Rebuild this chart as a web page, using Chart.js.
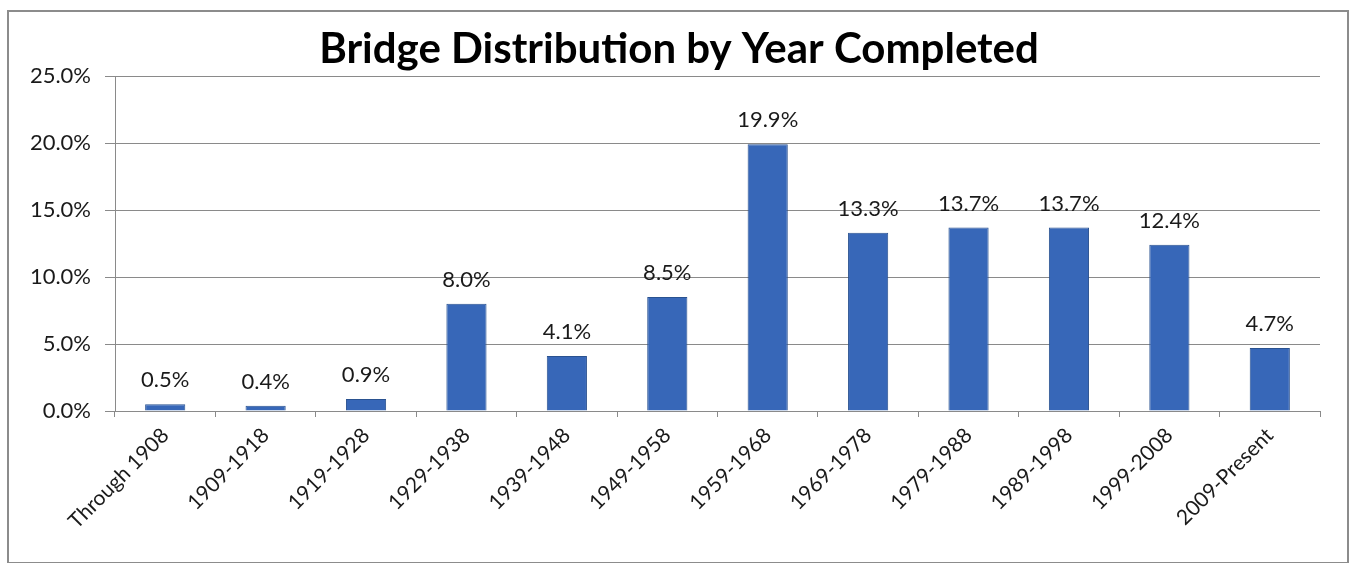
<!DOCTYPE html>
<html>
<head>
<meta charset="utf-8">
<script src="https://cdn.jsdelivr.net/npm/chart.js@4"></script>
<style>
  html, body { margin: 0; padding: 0; background: #fff; }
  #wrap { position: relative; width: 1349px; height: 563px; }
  #frame { position: absolute; left: 7px; top: 10px; width: 1338px; height: 550px;
           border: 2px solid #8c8c8c; pointer-events: none; }
</style>
</head>
<body>
<div id="wrap">
  <canvas id="bridge-chart" width="1349" height="563"></canvas>
  <div id="frame"></div>
</div>
<script>
// values
const periods = ["Through 1908", "1909-1918", "1919-1928", "1929-1938", "1939-1948", "1949-1958",
  "1959-1968", "1969-1978", "1979-1988", "1989-1998", "1999-2008", "2009-Present"];
const sharePct = [0.5, 0.4, 0.9, 8.0, 4.1, 8.5, 19.9, 13.3, 13.7, 13.7, 12.4, 4.7];
const yTicks = [0, 5, 10, 15, 20, 25];

const FONT = "Lato, 'Open Sans', sans-serif";

// title + value labels above each bar
const decorations = {
  id: "decorations",
  afterDatasetsDraw(chart) {
    const ctx = chart.ctx;
    ctx.save();
    ctx.fillStyle = "#000";
    ctx.font = "bold 42px " + FONT;
    ctx.textAlign = "center";
    ctx.textBaseline = "alphabetic";
    ctx.fillText("Bridge Distribution by Year Completed", 679, 63);

    ctx.font = "22px " + FONT;
    ctx.fillStyle = "#1a1a1a";
    ctx.textBaseline = "middle";
    chart.getDatasetMeta(0).data.forEach((bar, i) => {
      ctx.fillText(sharePct[i].toFixed(1) + "%", bar.x, bar.y - 24);
    });
    ctx.restore();
  },
};

new Chart(document.getElementById("bridge-chart"), {
  type: "bar",
  data: {
    labels: periods,
    datasets: [{
      data: sharePct,
      backgroundColor: "#3767b8",
      borderColor: "#2a5290",
      borderWidth: 1,
      barPercentage: 0.4,
      categoryPercentage: 1.0,
    }],
  },
  options: {
    responsive: false,
    animation: false,
    layout: { padding: { top: 76, right: 29, left: 0, bottom: 0 } },
    plugins: { legend: { display: false }, title: { display: false }, tooltip: { enabled: false } },
    scales: {
      x: {
        afterFit: (scale) => { scale.height = 152; },
        grid: { drawOnChartArea: false, drawTicks: true, tickLength: 6, color: "#8a8a8a" },
        border: { color: "#8a8a8a" },
        ticks: { minRotation: 45, maxRotation: 45, padding: 6, color: "#1a1a1a",
                 font: { family: FONT, size: 21 } },
      },
      y: {
        min: 0,
        max: 25,
        afterFit: (scale) => { scale.width = 115; },
        afterBuildTicks: (scale) => { scale.ticks = yTicks.map((v) => ({ value: v })); },
        grid: { color: "#8a8a8a", tickLength: 10 },
        border: { color: "#8a8a8a" },
        ticks: { padding: 14, color: "#1a1a1a", font: { family: FONT, size: 22 },
                 callback: (v) => v.toFixed(1) + "%" },
      },
    },
  },
  plugins: [decorations],
});
</script>
</body>
</html>
